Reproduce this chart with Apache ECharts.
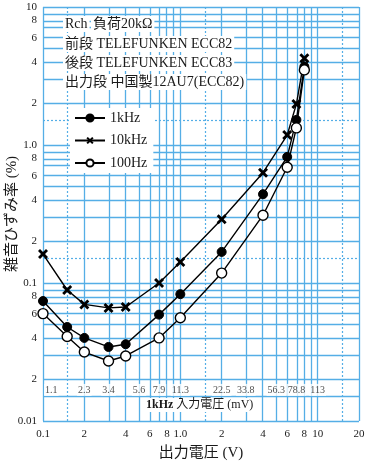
<!DOCTYPE html>
<html><head><meta charset="utf-8">
<script src="https://cdn.jsdelivr.net/npm/echarts@6/dist/echarts.min.js"></script>
<style>html,body{margin:0;padding:0;background:#fff}#c{width:366px;height:461px}</style>
</head><body><div id="c"></div>
<script>
// ---- data ----
const outputV = [0.1, 0.15, 0.2, 0.3, 0.4, 0.7, 1, 2, 4, 6, 7, 8];
const thd1k   = [0.074, 0.048, 0.040, 0.0344, 0.036, 0.059, 0.083, 0.168, 0.44, 0.82, 1.52, 3.7];
const thd10k  = [0.162, 0.089, 0.070, 0.066, 0.067, 0.100, 0.142, 0.29, 0.63, 1.18, 1.98, 4.25];
const thd100  = [0.060, 0.041, 0.0316, 0.0272, 0.0296, 0.040, 0.056, 0.118, 0.31, 0.69, 1.33, 3.5];

const xTickValues = [0.1, 0.2, 0.4, 0.6, 0.8, 1, 2, 4, 6, 8, 10, 20];
const xTickLabels = ['0.1', '2', '4', '6', '8', '1.0', '2', '4', '6', '8', '10', '20'];
const yTickValues = [10, 8, 6, 4, 2, 1, 0.8, 0.6, 0.4, 0.2, 0.1, 0.08, 0.06, 0.04, 0.02, 0.01];
const yTickLabels = ['10', '8', '6', '4', '2', '1.0', '8', '6', '4', '2', '0.1', '8', '6', '4', '2', '0.01'];

const xGridValues = [0.1, 0.2, 0.3, 0.4, 0.5, 0.6, 0.7, 0.8, 0.9, 1, 2, 3, 4, 5, 6, 7, 8, 9, 10, 20];
const yGridValues = [0.01, 0.015, 0.02, 0.03, 0.04, 0.05, 0.06, 0.07, 0.08, 0.09,
                     0.1, 0.2, 0.3, 0.4, 0.5, 0.6, 0.7, 0.8, 0.9,
                     1, 2, 3, 4, 5, 6, 7, 8, 9, 10];
const xDottedValues = [0.15, 1.5, 15];
const yDottedValues = [0.15, 1.5];

const inputAtOutput = [0.1, 0.2, 0.3, 0.5, 0.7, 1, 2, 3, 5, 7, 10];
const inputLabels = ['1.1', '2.3', '3.4', '5.6', '7.9', '11.3', '22.5', '33.8', '56.3', '78.8', '113'];
const inputRowLevel = 0.0168;

const seriesNames = ['1kHz', '10kHz', '100Hz'];
const noteLines = ['前段 TELEFUNKEN ECC82', '後段 TELEFUNKEN ECC83', '出力段 中国製12AU7(ECC82)'];

// ---- chart ----
const L = Math.log10;
const FONT = "'Liberation Serif','DejaVu Serif','Noto Sans CJK JP',serif";
const GRID_COLOR = '#55aee6';
const TXT = '#1a1a1a';
const XSYM = 'path://M0,2L2,0L5,3L8,0L10,2L7,5L10,8L8,10L5,7L2,10L0,8L3,5Z';

function labelFmt(values, labels) {
  return function (v) {
    for (let i = 0; i < values.length; i++) {
      if (Math.abs(L(values[i]) - v) < 1e-6) return labels[i];
    }
    return '';
  };
}
function pairs(ys) { return outputV.map((x, i) => [L(x), L(ys[i])]); }

const chart = echarts.init(document.getElementById('c'), null, {renderer: 'canvas'});
const titleBase = {padding: [1, 2], backgroundColor: '#fff',
  textStyle: {fontFamily: FONT, fontSize: 14, fontWeight: 'normal', color: TXT}};

chart.setOption({
  animation: false,
  backgroundColor: '#fff',
  grid: {left: 43, right: 7, top: 7, bottom: 40, outerBoundsMode: 'none', containLabel: false},
  title: [
    Object.assign({text: 'Rch', left: 63, top: 16}, titleBase),
    Object.assign({text: '負荷20kΩ', left: 91, top: 16}, titleBase),
    Object.assign({text: noteLines[0], left: 63, top: 36}, titleBase),
    Object.assign({text: noteLines[1], left: 63, top: 55}, titleBase),
    Object.assign({text: noteLines[2], left: 63, top: 74}, titleBase),
    {text: '{b|1kHz} 入力電圧 (mV)', left: 144, top: 398, padding: [1, 2], backgroundColor: '#fff',
     textStyle: {fontFamily: FONT, fontSize: 12, fontWeight: 'normal', color: TXT,
       rich: {b: {fontFamily: FONT, fontSize: 12, fontWeight: 'bold', color: TXT}}}}
  ],
  legend: {
    data: seriesNames, orient: 'vertical', left: 70, top: 108,
    itemWidth: 30, itemHeight: 9, itemGap: 8.5,
    backgroundColor: '#fff', padding: [3, 6, 3, 4],
    textStyle: {fontFamily: FONT, fontSize: 14, color: TXT}
  },
  xAxis: {
    type: 'value', min: L(0.1), max: L(20),
    name: '出力電圧 (V)', nameLocation: 'middle', nameGap: 24.5, nameMoveOverlap: false,
    nameTextStyle: {fontFamily: FONT, fontSize: 15, color: TXT},
    axisLine: {show: false}, axisTick: {show: false}, splitLine: {show: false},
    axisLabel: {customValues: xTickValues.map(L), formatter: labelFmt(xTickValues, xTickLabels),
      fontFamily: FONT, fontSize: 11, color: TXT, margin: 8}
  },
  yAxis: {
    type: 'value', min: L(0.01), max: L(10),
    name: '雑音ひずみ率 (%)', nameLocation: 'middle', nameGap: 23, nameMoveOverlap: false,
    nameTextStyle: {fontFamily: FONT, fontSize: 15, color: TXT},
    axisLine: {show: false}, axisTick: {show: false}, splitLine: {show: false},
    axisLabel: {customValues: yTickValues.map(L), formatter: labelFmt(yTickValues, yTickLabels),
      fontFamily: FONT, fontSize: 11, color: TXT, margin: 6}
  },
  series: [
    {type: 'line', name: '_grid', data: [], z: 1, silent: true,
     markLine: {silent: true, z: 1, symbol: 'none', label: {show: false},
       lineStyle: {color: GRID_COLOR, width: 1.3, type: 'solid'},
       emphasis: {disabled: true},
       data: xGridValues.map(v => ({xAxis: L(v)})).concat(yGridValues.map(v => ({yAxis: L(v)})))}},
    {type: 'line', name: '_dot', data: [], z: 1, silent: true,
     markLine: {silent: true, z: 1, symbol: 'none', label: {show: false},
       lineStyle: {color: GRID_COLOR, width: 1.2, type: [2, 2]},
       emphasis: {disabled: true},
       data: xDottedValues.map(v => ({xAxis: L(v)})).concat(yDottedValues.map(v => ({yAxis: L(v)})))}},
    {type: 'scatter', name: '_input', z: 4, silent: true, symbolSize: 0.1,
     itemStyle: {color: 'rgba(0,0,0,0)'},
     label: {show: true, position: 'inside', formatter: p => inputLabels[p.dataIndex],
       backgroundColor: '#fff', padding: [1, 1], fontFamily: FONT, fontSize: 10, color: TXT},
     data: inputAtOutput.map((x, i) => i === 0
       ? {value: [L(x), L(inputRowLevel)], label: {position: 'right', distance: 1}}
       : {value: [L(x), L(inputRowLevel)]})},
    {type: 'line', name: seriesNames[0], z: 3, data: pairs(thd1k),
     symbol: 'circle', symbolSize: 9, showAllSymbol: true,
     lineStyle: {color: '#000', width: 1.4}, itemStyle: {color: '#000', borderColor: '#000', borderWidth: 1}},
    {type: 'line', name: seriesNames[1], z: 3, data: pairs(thd10k),
     symbol: XSYM, symbolSize: 10, showAllSymbol: true,
     lineStyle: {color: '#000', width: 1.4}, itemStyle: {color: '#000'}},
    {type: 'line', name: seriesNames[2], z: 3, data: pairs(thd100),
     symbol: 'circle', symbolSize: 10, showAllSymbol: true,
     lineStyle: {color: '#000', width: 1.4}, itemStyle: {color: '#fff', borderColor: '#000', borderWidth: 1.4}}
  ]
});
</script>
</body></html>
